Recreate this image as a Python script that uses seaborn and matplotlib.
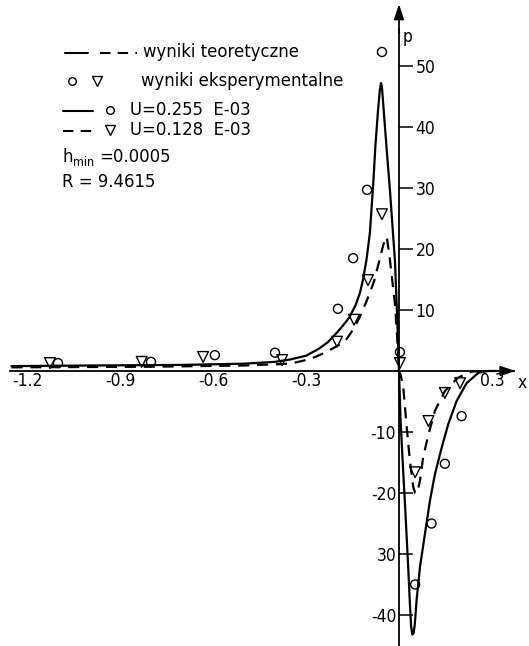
import matplotlib
matplotlib.use("Agg")
import matplotlib.pyplot as plt
import seaborn as sns

# ---------------- data ----------------
# theoretical curve, U = 0.255 E-03 (solid)
x_theory_a = [-1.25, -1.0, -0.7, -0.5, -0.40, -0.35, -0.30, -0.26, -0.23, -0.20,
              -0.18, -0.16, -0.14, -0.126, -0.116, -0.105, -0.094, -0.084, -0.076,
              -0.068, -0.062, -0.058, -0.055, -0.052, -0.040, -0.029, -0.013, -0.006,
              0.0, 0.005, 0.012, 0.019, 0.030, 0.035, 0.039, 0.043, 0.047, 0.051,
              0.057, 0.068, 0.084, 0.100, 0.116, 0.138, 0.159, 0.186, 0.218, 0.256,
              0.287, 0.330]
p_theory_a = [0.8, 0.9, 1.0, 1.2, 1.5, 1.9, 2.5, 3.6, 4.7, 6.3,
              7.5, 8.8, 10.8, 12.8, 15.0, 18.2, 22.6, 30.0, 37.0,
              42.5, 46.0, 47.2, 46.5, 44.5, 36.5, 29.5, 18.0, 9.0,
              0.0, -8.0, -15.0, -21.5, -32.5, -38.0, -41.8, -43.2, -43.0, -41.5,
              -37.4, -32.0, -26.6, -21.2, -16.9, -12.5, -8.7, -4.9, -2.0, -0.3,
              0.0, 0.0]
# theoretical curve, U = 0.128 E-03 (dashed)
x_theory_b = [-1.25, -0.8, -0.5, -0.35, -0.30, -0.27, -0.244, -0.21, -0.19, -0.168,
              -0.148, -0.126, -0.11, -0.094, -0.08, -0.071, -0.06, -0.05, -0.043,
              -0.038, -0.030, -0.023, -0.013, -0.004, 0.0, 0.005, 0.014, 0.025,
              0.035, 0.046, 0.052, 0.057, 0.062, 0.068, 0.078, 0.095, 0.116, 0.148,
              0.190, 0.234, 0.280]
p_theory_b = [0.6, 0.7, 0.9, 1.2, 1.8, 2.3, 2.9, 3.8, 4.4, 5.3,
              6.8, 8.9, 10.8, 12.8, 14.8, 16.6, 18.8, 20.8, 22.0,
              21.5, 18.5, 15.4, 11.0, 4.0, 0.0, -0.5, -2.8, -9.3,
              -14.6, -19.0, -20.0, -20.1, -19.3, -17.9, -14.1, -10.4, -6.5, -3.3,
              -1.1, -0.1, 0.0]
# experimental results, U = 0.255 E-03 (circles)
x_exp_a = [-1.10, -0.80, -0.594, -0.40, -0.197, -0.148, -0.103, -0.055, 0.003,
           0.052, 0.105, 0.148, 0.202]
p_exp_a = [1.3, 1.5, 2.6, 3.0, 10.2, 18.5, 29.7, 52.3, 3.1,
           -35.0, -25.0, -15.2, -7.4]
# experimental results, U = 0.128 E-03 (triangles)
x_exp_b = [-1.126, -0.83, -0.632, -0.377, -0.20, -0.145, -0.10, -0.055, 0.003,
           0.052, 0.095, 0.148, 0.197]
p_exp_b = [1.3, 1.5, 2.3, 1.8, 4.8, 8.4, 14.9, 25.7, 1.3,
           -16.6, -8.2, -3.6, -2.0]

x_ticks = [-1.2, -0.9, -0.6, -0.3, 0.3]
x_tick_labels = ["-1.2", "-0.9", "-0.6", "-0.3", "0.3"]
y_pos_ticks = [10, 20, 30, 40, 50]
y_pos_labels = ["10", "20", "30", "40", "50"]
y_neg_ticks = [-10, -20, -30, -40]
y_neg_labels = ["-10", "-20", "30", "-40"]

legend_rows = ["wyniki teoretyczne", "wyniki eksperymentalne",
               "U=0.255  E-03", "U=0.128  E-03"]
hmin_text = "=0.0005"
r_text = "R = 9.4615"

# ---------------- style ----------------
sns.set_style("white")
plt.rcParams['font.family'] = ['DejaVu Sans']
plt.rcParams['text.color'] = 'black'
FONT = dict(family='DejaVu Sans', stretch='condensed', size=12.5, color='black')
LFONT = dict(family='DejaVu Sans', stretch='condensed', size=13.2, color='black')
DASH = (0, (5, 3.5))

W, H = 529, 646
fig = plt.figure(figsize=(W / 100, H / 100), dpi=100)
ax = fig.add_axes([0, 0, 1, 1])
X0, Y0, SX, SY = 399, 371, 310.0, 6.1
ax.set_xlim(-X0 / SX, (W - X0) / SX)
ax.set_ylim(-(H - Y0) / SY, Y0 / SY)

# ---------------- curves ----------------
sns.lineplot(x=x_theory_a, y=p_theory_a, ax=ax, color='black', lw=1.6,
             sort=False, estimator=None)
sns.lineplot(x=x_theory_b, y=p_theory_b, ax=ax, color='black', lw=1.6,
             sort=False, estimator=None, linestyle=DASH)
sns.scatterplot(x=x_exp_a, y=p_exp_a, ax=ax, marker='o', s=42,
                facecolors='none', edgecolor='black', linewidth=1.0, zorder=4)
sns.scatterplot(x=x_exp_b, y=p_exp_b, ax=ax, marker='v', s=60,
                facecolors='none', edgecolor='black', linewidth=1.0, zorder=4)

# ---------------- axes through origin ----------------
for s in ['top', 'right']:
    ax.spines[s].set_visible(False)
ax.spines['bottom'].set_position(('data', 0))
ax.spines['left'].set_position(('data', 0))
ax.spines['bottom'].set_bounds(-1.255, 0.37)
ax.spines['left'].set_bounds(-45.5, 56)
for s in ['bottom', 'left']:
    ax.spines[s].set_color('black')
    ax.spines[s].set_linewidth(1.3)

ax.set_xticks(x_ticks)
ax.set_xticklabels(x_tick_labels, fontdict=FONT)
ax.tick_params(axis='x', direction='in', length=8, width=1.1, pad=1, colors='black')

ax.set_yticks(y_neg_ticks)
ax.set_yticklabels(y_neg_labels, fontdict=FONT)
ax.tick_params(axis='y', direction='in', length=10, width=1.1, pad=2, colors='black')

ax2 = ax.twinx()
ax2.set_ylim(ax.get_ylim())
for s in ['top', 'left', 'bottom']:
    ax2.spines[s].set_visible(False)
ax2.spines['right'].set_position(('data', 0))
ax2.spines['right'].set_visible(False)
ax2.set_yticks(y_pos_ticks)
ax2.set_yticklabels(y_pos_labels, fontdict=FONT)
ax2.tick_params(axis='y', direction='out', length=10, width=1.1, pad=2, colors='black')
ax2.grid(False)
ax.grid(False)

# arrows and axis letters
ax.annotate('', xy=(0, 60.6), xytext=(0, 55), annotation_clip=False,
            arrowprops=dict(arrowstyle='-|>,head_length=0.9,head_width=0.3',
                            color='black', lw=1.3))
ax.annotate('', xy=(0.385, 0), xytext=(0.35, 0), annotation_clip=False,
            arrowprops=dict(arrowstyle='-|>,head_length=0.9,head_width=0.3',
                            color='black', lw=1.3))
ax.text(0.012, 54.8, 'p', ha='left', va='center', **FONT)
ax.text(0.384, -1.9, 'x', ha='left', va='center', **FONT)

# ---------------- legend block (figure pixel coordinates) ----------------
def fx(px):
    return px / W

def fy(py):
    return 1 - py / H

tr = fig.transFigure
def seg(x1, x2, y, style):
    fig.add_artist(plt.Line2D([fx(x1), fx(x2)], [fy(y), fy(y)], transform=tr,
                              color='black', lw=1.5, linestyle=style))

def mark(x, y, m, ms):
    fig.add_artist(plt.Line2D([fx(x)], [fy(y)], transform=tr, marker=m, ms=ms,
                              mfc='none', mec='black', mew=1.0, linestyle='none'))

seg(65, 88, 53, '-')
seg(100, 137, 53, DASH)
fig.text(fx(143), fy(52), legend_rows[0], ha='left', va='center', **LFONT)
mark(72, 81, 'o', 5.5)
mark(97, 81, 'v', 7)
fig.text(fx(141), fy(81), legend_rows[1], ha='left', va='center', **LFONT)
seg(63, 93, 111, '-')
mark(110, 110, 'o', 5.5)
fig.text(fx(130), fy(110), legend_rows[2], ha='left', va='center', **LFONT)
seg(63, 93, 131, DASH)
mark(110, 130, 'v', 7)
fig.text(fx(130), fy(130), legend_rows[3], ha='left', va='center', **LFONT)
fig.text(fx(62), fy(157), 'h', ha='left', va='center', **LFONT)
fig.text(fx(73), fy(163), 'min', ha='left', va='center',
         family='DejaVu Sans', stretch='condensed', size=9, color='black')
fig.text(fx(99), fy(157), hmin_text, ha='left', va='center', **LFONT)
fig.text(fx(62), fy(182), r_text, ha='left', va='center', **LFONT)

fig.savefig('out.png', dpi=100, facecolor='white')
